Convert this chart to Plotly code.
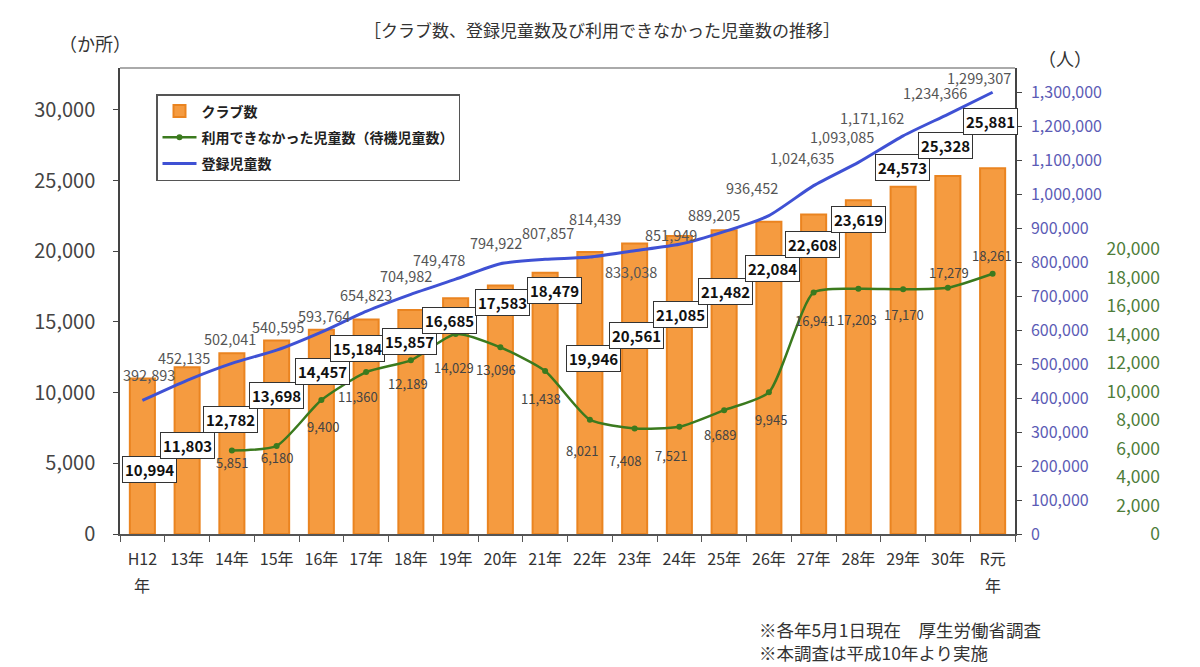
import plotly.graph_objects as go

# ---------------- data ----------------
categories = ["H12年", "13年", "14年", "15年", "16年", "17年", "18年", "19年", "20年", "21年",
              "22年", "23年", "24年", "25年", "26年", "27年", "28年", "29年", "30年", "R元年"]
# first line of each tick label; the era labels wrap "年" onto a second line
tick_labels = ["H12", "13年", "14年", "15年", "16年", "17年", "18年", "19年", "20年", "21年",
               "22年", "23年", "24年", "25年", "26年", "27年", "28年", "29年", "30年", "R元"]
wrapped_ticks = ["H12年", "R元年"]
clubs = [10994, 11803, 12782, 13698, 14457, 15184, 15857, 16685, 17583, 18479,
         19946, 20561, 21085, 21482, 22084, 22608, 23619, 24573, 25328, 25881]
registered = [392893, 452135, 502041, 540595, 593764, 654823, 704982, 749478, 794922, 807857,
              814439, 833038, 851949, 889205, 936452, 1024635, 1093085, 1171162, 1234366, 1299307]
waiting_categories = categories[2:]
waiting = [5851, 6180, 9400, 11360, 12189, 14029, 13096, 11438, 8021, 7408,
           7521, 8689, 9945, 16941, 17203, 17170, 17279, 18261]

left_ticks = [0, 5000, 10000, 15000, 20000, 25000, 30000]
blue_ticks = list(range(0, 1300001, 100000))
green_ticks = list(range(0, 20001, 2000))

# ---------------- label offsets (pixels, layout only) ----------------
club_dx = [7, 0, -1, 0, 1, -9, -1, -6, 2, 9, 4, 2, 1, 1, 4, -1, 0, -1, -2, -2]
club_dy = [-91, -78, -66, -55, -42, -29, -32, -22, -17, -18, -106, -92, -79, -61, -47, -30, -19, 19, 31, 47]
reg_dx = [7, -3, -2, 1, 3, 0, -5, -17, -4, 3, 5, -4, -8, -10, -17, -12, -16, -31, -13, -14]
reg_dy = [26, 23, 25, 24, 17, 17, 19, 20, 21, 27, 39, -21, 10, 17, 28, 28, 26, 18, 22, 15]
wait_dx = [0, 0, 2, -8, -3, -2, -4, -4, -8, -10, -8, -4, 2, 1, -1, 1, 1, -1]
wait_dy = [-12, -12, -26, -24, -23, -33, -22, -27, -31, -32, -29, -24, -27, -28, -31, -25, 15, 18]

FONT = "Noto Sans CJK JP"
ORANGE = "#F59B40"
ORANGE_EDGE = "#EA8420"
BLUE = "#3F51D4"
GREEN = "#3B7A1E"

fig = go.Figure()

fig.add_trace(go.Bar(
    x=categories, y=clubs, name="クラブ数",
    marker=dict(color=ORANGE, line=dict(color=ORANGE_EDGE, width=2)),
    yaxis="y", legendgroup="a", hoverinfo="x+y",
))
fig.add_trace(go.Scatter(
    x=waiting_categories, y=waiting, name="利用できなかった児童数（待機児童数）",
    mode="lines+markers", line=dict(color=GREEN, width=2.5, shape="spline", smoothing=0.6),
    marker=dict(color=GREEN, size=6), yaxis="y3", legendgroup="b",
))
fig.add_trace(go.Scatter(
    x=categories, y=registered, name="登録児童数",
    mode="lines", line=dict(color=BLUE, width=3, shape="spline", smoothing=0.6),
    yaxis="y2", legendgroup="c",
))

annotations = []
for i, c in enumerate(categories):
    annotations.append(dict(
        x=c, y=clubs[i], xref="x", yref="y", text=f"{clubs[i]:,}", showarrow=False,
        xshift=club_dx[i], yshift=club_dy[i],
        font=dict(family=FONT, size=15, color="#111", weight="bold"),
        bgcolor="white", bordercolor="#333", borderwidth=1, borderpad=2,
    ))
    annotations.append(dict(
        x=c, y=registered[i], xref="x", yref="y2", text=f"{registered[i]:,}", showarrow=False,
        xshift=reg_dx[i], yshift=reg_dy[i],
        font=dict(family=FONT, size=14.5, color="#555"),
    ))
for i, c in enumerate(waiting_categories):
    annotations.append(dict(
        x=c, y=waiting[i], xref="x", yref="y3", text=f"{waiting[i]:,}", showarrow=False,
        xshift=wait_dx[i], yshift=wait_dy[i],
        font=dict(family=FONT, size=13, color="#444"),
    ))

W, H = 1200, 667
ML, MR, MT, MB = 120, 30, 68, 133
pw, ph = W - ML - MR, H - MT - MB

# second line ("年") of the wrapped tick labels
for c in wrapped_ticks:
    annotations.append(dict(
        x=c, y=(H - MB - 585) / ph, xref="x", yref="paper", yanchor="middle",
        text="年", showarrow=False, font=dict(family=FONT, size=16, color="#333"),
    ))


def page_text(px, py, text, size, anchor="center"):
    return dict(x=(px - ML) / pw, y=(H - MB - py) / ph, xref="paper", yref="paper",
                xanchor=anchor, yanchor="middle", align="left", text=text, showarrow=False,
                font=dict(family=FONT, size=size, color="#333"))


annotations += [
    page_text(602, 30, "［クラブ数、登録児童数及び利用できなかった児童数の推移］", 17),
    page_text(95, 43, "（か所）", 18),
    page_text(1065, 58, "（人）", 18),
    page_text(757, 641, "※各年5月1日現在　厚生労働省調査<br>※本調査は平成10年より実施", 17.5, "left"),
]

x_end = 895 / pw

fig.update_layout(
    width=W, height=H,
    margin=dict(l=ML, r=MR, t=MT, b=MB),
    paper_bgcolor="white", plot_bgcolor="white",
    font=dict(family=FONT, color="#333"),
    bargap=0.44,
    showlegend=True,
    legend=dict(
        x=(156 - ML) / pw, y=(H - MB - 94) / ph, xanchor="left", yanchor="top",
        bordercolor="#555", borderwidth=1.5, bgcolor="white",
        font=dict(family=FONT, size=14, color="#222", weight="bold"),
        tracegroupgap=5, itemwidth=34,
    ),
    xaxis=dict(
        domain=[0, x_end], type="category", range=[-0.5, 19.5],
        tickmode="array", tickvals=categories, ticktext=tick_labels,
        tickfont=dict(family=FONT, size=16, color="#333"), tickangle=0,
        showline=True, linecolor="#555", linewidth=1.5,
        ticks="outside", tickson="boundaries", ticklen=6, tickcolor="#555",
        ticklabelstandoff=10,
        showgrid=False, zeroline=False,
    ),
    yaxis=dict(
        range=[0, 32970], tickmode="array", tickvals=left_ticks, tickformat=",",
        tickfont=dict(family=FONT, size=20, color="#444"),
        showline=True, linecolor="#444", linewidth=1.5,
        ticks="outside", ticklen=5, tickcolor="#444", ticklabelstandoff=14,
        showgrid=False, zeroline=False,
    ),
    yaxis2=dict(
        overlaying="y", side="right", anchor="x",
        range=[0, 1370600], tickmode="array", tickvals=blue_ticks, tickformat=",",
        tickfont=dict(family=FONT, size=16, color="#5B5BB5"),
        showline=True, linecolor="#444", linewidth=1.5,
        ticks="outside", ticklen=5, tickcolor="#444", ticklabelstandoff=6,
        showgrid=False, zeroline=False,
    ),
    yaxis3=dict(
        overlaying="y", side="left", anchor="free", position=(1160 - ML) / pw,
        range=[0, 32700], tickmode="array", tickvals=green_ticks, tickformat=",",
        tickfont=dict(family=FONT, size=17.5, color="#4E7D3A"),
        showline=False, ticks="", showgrid=False, zeroline=False,
    ),
    annotations=annotations,
    shapes=[dict(type="line", xref="paper", yref="paper", x0=0, x1=x_end, y0=1, y1=1,
                 line=dict(color="#AAAAAA", width=2))],
)

fig.write_html("out.html")
